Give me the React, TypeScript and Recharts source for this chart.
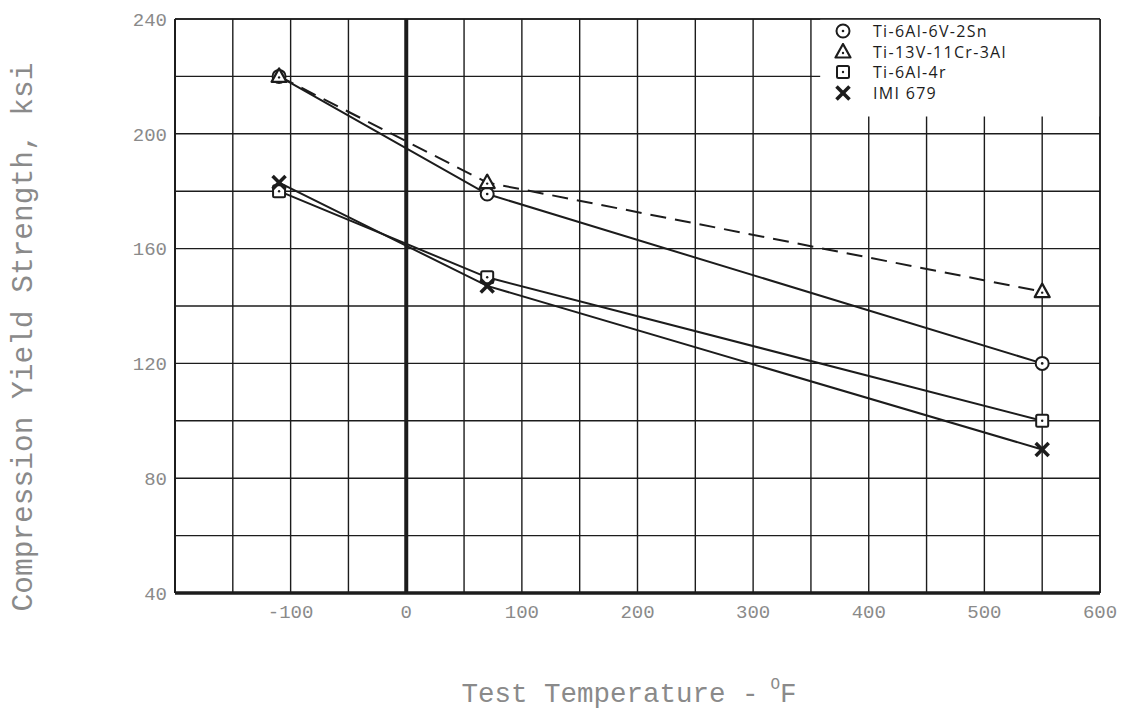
import {
  LineChart,
  Line,
  XAxis,
  YAxis,
  CartesianGrid,
  ReferenceLine,
  ReferenceArea,
  Label,
} from "recharts";

// test temperature, deg F
const temps = [-110, 70, 550];
// compression yield strength, ksi
const ti6Al6V2Sn = [220, 179, 120];
const ti13V11Cr3Al = [220, 183, 145];
const ti6Al4r = [180, 150, 100];
const imi679 = [183, 147, 90];

const xTicks = [-200, -150, -100, -50, 0, 50, 100, 150, 200, 250, 300, 350, 400, 450, 500, 550, 600];
const yTicks = [40, 60, 80, 100, 120, 140, 160, 180, 200, 220, 240];

const series = [
  { key: "a", name: "Ti-6Al-6V-2Sn", marker: "circle", dashed: false },
  { key: "b", name: "Ti-13V-11Cr-3Al", marker: "triangle", dashed: true },
  { key: "c", name: "Ti-6Al-4r", marker: "square", dashed: false },
  { key: "d", name: "IMI 679", marker: "x", dashed: false },
];

const data = temps.map((t, i) => ({
  t,
  a: ti6Al6V2Sn[i],
  b: ti13V11Cr3Al[i],
  c: ti6Al4r[i],
  d: imi679[i],
}));

const INK = "#1c1c1c";
const MONO = "'Liberation Mono', 'DejaVu Sans Mono', monospace";
const TXT = "#8a8a8a";

function Marker({ kind, cx, cy }: { kind: string; cx: number; cy: number }) {
  if (kind === "circle") {
    return (
      <g>
        <circle cx={cx} cy={cy} r={6.5} fill="#fff" stroke={INK} strokeWidth={2} />
        <circle cx={cx} cy={cy} r={1.3} fill={INK} />
      </g>
    );
  }
  if (kind === "triangle") {
    return (
      <g>
        <polygon
          points={`${cx},${cy - 8} ${cx - 7.5},${cy + 5.5} ${cx + 7.5},${cy + 5.5}`}
          fill="#fff"
          stroke={INK}
          strokeWidth={2.2}
          strokeLinejoin="round"
        />
        <circle cx={cx} cy={cy + 1} r={1.2} fill={INK} />
      </g>
    );
  }
  if (kind === "square") {
    return (
      <g>
        <rect x={cx - 6} y={cy - 6} width={12} height={12} rx={1.5} fill="#fff" stroke={INK} strokeWidth={2} />
        <circle cx={cx} cy={cy} r={1.2} fill={INK} />
      </g>
    );
  }
  return (
    <g stroke={INK} strokeWidth={3.5} strokeLinecap="butt">
      <line x1={cx - 6.5} y1={cy - 6.5} x2={cx + 6.5} y2={cy + 6.5} />
      <line x1={cx - 6.5} y1={cy + 6.5} x2={cx + 6.5} y2={cy - 6.5} />
    </g>
  );
}

function LegendBox() {
  return (
    <div
      style={{
        position: "absolute",
        left: 826,
        top: 13,
        fontFamily: "'Open Sans', sans-serif",
        fontSize: 16,
        color: INK,
        letterSpacing: 1.3,
      }}
    >
      {series.map((s) => (
        <div key={s.key} style={{ display: "flex", alignItems: "center", height: 20.5 }}>
          <svg width={18} height={18} style={{ flex: "none" }}>
            <Marker kind={s.marker} cx={9} cy={9} />
          </svg>
          <span style={{ marginLeft: 21, whiteSpace: "nowrap" }}>{s.name}</span>
        </div>
      ))}
    </div>
  );
}

export default function App() {
  return (
    <div style={{ position: "relative", width: 1113, height: 703, background: "#fff" }}>
      <LineChart width={1113} height={703} data={data} margin={{ top: 11, right: 21, left: 107, bottom: 88 }}>
        <CartesianGrid stroke={INK} strokeWidth={1.4} />
        <XAxis
          type="number"
          dataKey="t"
          domain={[-200, 600]}
          ticks={xTicks}
          interval={0}
          height={30}
          tickLine={false}
          axisLine={{ stroke: INK, strokeWidth: 3.5 }}
          tick={{ fontFamily: MONO, fontSize: 19, fill: TXT }}
          tickFormatter={(v) => (v % 100 === 0 && v !== -200 ? String(v) : "")}
          tickMargin={6}
        >
          <Label
            content={() => (
              <text x={621} y={694} textAnchor="middle" fontFamily={MONO} fontSize={27.5} fill={TXT}>
                Test Temperature -
                <tspan dx={12} dy={-13} fontSize={16}>O</tspan>
                <tspan dy={13}>F</tspan>
              </text>
            )}
          />
        </XAxis>
        <YAxis
          type="number"
          domain={[40, 240]}
          ticks={yTicks}
          interval={0}
          width={60}
          tickLine={false}
          axisLine={{ stroke: INK, strokeWidth: 2 }}
          tick={{ fontFamily: MONO, fontSize: 19, fill: TXT }}
          tickFormatter={(v) => (v % 40 === 0 ? String(v) : "")}
          tickMargin={2}
        >
          <Label
            content={() => (
              <text
                x={16}
                y={329}
                textAnchor="middle"
                dominantBaseline="central"
                transform="rotate(-90 16 329)"
                fontFamily={MONO}
                fontSize={29.5}
                fill={TXT}
              >
                Compression Yield Strength, ksi
              </text>
            )}
          />
        </YAxis>
        <ReferenceArea x1={358} x2={600} y1={206} y2={240} fill="#fff" fillOpacity={1} stroke="none" />
        <ReferenceLine x={0} stroke={INK} strokeWidth={4} />
        <ReferenceLine x={600} stroke={INK} strokeWidth={1.6} />
        <ReferenceLine y={240} stroke={INK} strokeWidth={1.6} />
        {series.map((s) => (
          <Line
            key={s.key}
            type="linear"
            dataKey={s.key}
            name={s.name}
            stroke={INK}
            strokeWidth={2}
            strokeDasharray={s.dashed ? "16 9" : undefined}
            isAnimationActive={false}
            dot={(p: any) => <Marker key={`${s.key}-${p.index}`} kind={s.marker} cx={p.cx} cy={p.cy} />}
            activeDot={false}
          />
        ))}
      </LineChart>
      <LegendBox />
    </div>
  );
}
